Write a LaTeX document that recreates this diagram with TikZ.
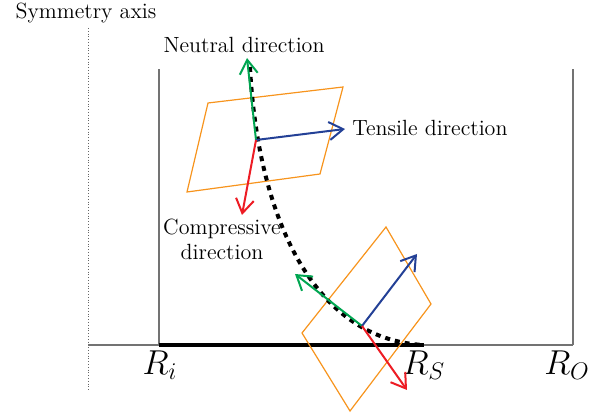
\documentclass[tikz,border=0pt]{standalone}
\usetikzlibrary{arrows.meta}
\definecolor{planeorange}{RGB}{247,148,29}
\definecolor{neutralgreen}{RGB}{0,166,81}
\definecolor{tensileblue}{RGB}{35,64,150}
\definecolor{compred}{RGB}{237,28,36}
\begin{document}
\begin{tikzpicture}[x=0.5pt,y=-0.5pt,
  font=\fontsize{11}{12.5}\selectfont,
  axisline/.style={black!55,line width=0.6pt},
  plane/.style={planeorange,line width=0.6pt},
  dirarrow/.style={line width=1pt,-{Straight Barb[length=7pt,width=9pt]}}]
  \useasboundingbox (0,0) rectangle (609,415);

  % axes and domain
  \coordinate (axtop) at (88,28);
  \coordinate (axbot) at (88,390);
  \coordinate (ri) at (159,345);
  \coordinate (rs) at (424,345);
  \coordinate (ro) at (573,345);
  \coordinate (ritop) at (159,69);
  \coordinate (rotop) at (573,69);
  \draw[black!60,densely dotted] (axtop) -- (axbot);
  \draw[axisline] (axbot |- ri) -- (ro);
  \draw[axisline] (ri) -- (ritop);
  \draw[axisline] (ro) -- (rotop);
  \draw[line width=1.6pt] (ri) -- (rs);
  \node (symlbl) at (86,13) {Symmetry axis};
  \node (rilbl) at (160,365) {\LARGE $R_i$};
  \node (rslbl) at (424,365) {\LARGE $R_S$};
  \node (rolbl) at (567,365) {\LARGE $R_O$};

  % upper plane
  \draw[plane] (208,103) -- (343,87) -- (320,174) -- (187,192) -- cycle;
  \coordinate (upc) at (256,140);
  \coordinate (upn) at (247,58);
  \coordinate (upt) at (345,129);
  \coordinate (upk) at (242,215);

  % lower plane
  \draw[plane] (386,227) -- (431,304) -- (350,411) -- (302,333) -- cycle;
  \coordinate (loc) at (362,326);
  \coordinate (lon) at (295,274);
  \coordinate (lot) at (417,254);
  \coordinate (lok) at (407,390);

  % path of the material point
  \draw[line width=2pt,dash pattern=on 2.5pt off 2.5pt]
    (250,67) .. controls (258,220) and (315,340) .. (rs);

  \draw[dirarrow,neutralgreen] (upc) -- (upn);
  \draw[dirarrow,tensileblue] (upc) -- (upt);
  \draw[dirarrow,compred] (upc) -- (upk);
  \draw[dirarrow,neutralgreen] (loc) -- (lon);
  \draw[dirarrow,tensileblue] (loc) -- (lot);
  \draw[dirarrow,compred] (loc) -- (lok);

  \node (neulbl) at (244,45) {Neutral direction};
  \node[anchor=west,inner sep=0pt] (tenlbl) at (352,128) {Tensile direction};
  \node[align=center,inner sep=0pt] (comlbl) at (222,239) {Compressive\\direction};
\end{tikzpicture}
\end{document}
